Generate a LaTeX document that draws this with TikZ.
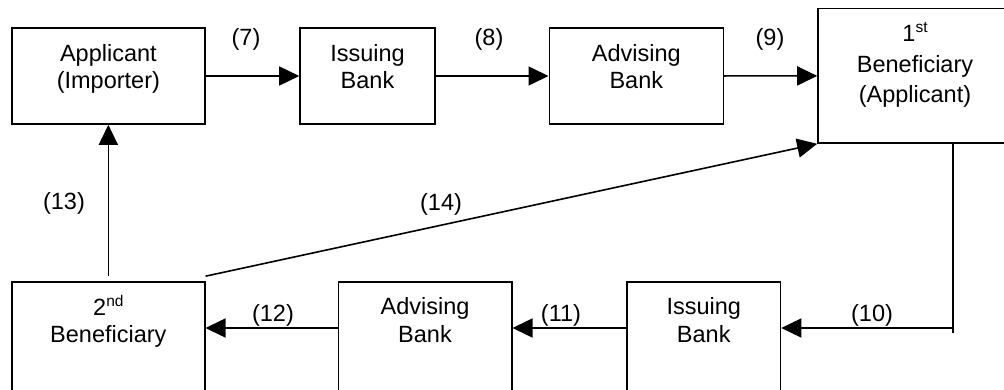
\documentclass[tikz,border=0pt]{standalone}
\usepackage{fontspec}
\setmainfont{Liberation Sans}
\usetikzlibrary{arrows.meta}
\newcommand\supx[1]{\raisebox{9pt}{\fontsize{15.5}{15.5}\selectfont #1}}
\begin{document}
\begin{tikzpicture}[x=1pt,y=-1pt,
  box/.style={draw=black, line width=1.6pt, rectangle, inner sep=0pt},
  txt/.style={align=center, inner sep=0pt, font=\fontsize{23.5}{27.5}\selectfont},
  txtb/.style={align=center, inner sep=0pt, font=\fontsize{23.5}{30.5}\selectfont},
  lbl/.style={inner sep=0pt, font=\fontsize{23.5}{27.5}\selectfont},
  arr/.style={line width=1.6pt, -{Triangle[length=20pt,width=19pt]}},
  ln/.style={line width=1.6pt}]
\useasboundingbox (0,0) rectangle (1004,390);
\fill[white] (0,0) rectangle (1004,390);
\clip (0,0) rectangle (1004,390);

% top row boxes
\node[box, minimum width=192.7pt, minimum height=96pt] (app) at (108.35,76) {};
\node[box, minimum width=135pt, minimum height=96pt] (ib) at (367.5,76) {};
\node[box, minimum width=174pt, minimum height=96pt] (ab) at (636.3,76) {};
\node[box, minimum width=194pt, minimum height=134.3pt] (b1) at (915,75.85) {};
% bottom row boxes
\node[box, minimum width=192.7pt, minimum height=118pt] (b2) at (108.35,341) {};
\node[box, minimum width=173.4pt, minimum height=118pt] (ab2) at (425,341) {};
\node[box, minimum width=153.5pt, minimum height=118pt] (ib2) at (703.75,341) {};

% box texts
\node[txt] (appT) at (108.35,69.6) {\strut Applicant\\(Importer)\strut};
\node[txt] (ibT) at (367.5,69.4) {\strut Issuing\\Bank\strut};
\node[txt] (abT) at (636.3,69.4) {\strut Advising\\Bank\strut};
\node[txtb] (b1T) at (915,66.3) {\strut 1\supx{st}\\Beneficiary\\(Applicant)\strut};
\node[txt] (b2T) at (108.35,322.85) {\strut 2\supx{nd}\\Beneficiary\strut};
\node[txt] (ab2T) at (425,322.85) {\strut Advising\\Bank\strut};
\node[txt] (ib2T) at (703.75,322.85) {\strut Issuing\\Bank\strut};

% helper coordinates
\coordinate (hy) at (0,328);
\coordinate (c10) at (953,328);

% connectors
\draw[arr] (app) -- (ib);
\draw[arr] (ib) -- (ab);
\draw[arr] (ab) -- (b1);
\draw[ln] (b1.south -| c10) -- ([yshift=-5pt]c10);
\draw[arr] (c10) -- (c10 -| ib2.east);
\draw[arr] (ib2.west |- hy) -- (ab2.east |- hy);
\draw[arr] (ab2.west |- hy) -- (b2.east |- hy);
\draw[arr] ([yshift=5pt]b2.north) -- (app.south);
\draw[arr] ([yshift=5pt]b2.north east) -- (b1.south west);

% labels
\node[lbl] (l7) at (246,39.5) {(7)};
\node[lbl] (l8) at (489,39.5) {(8)};
\node[lbl] (l9) at (770,39.5) {(9)};
\node[lbl] (l10) at (872,315) {(10)};
\node[lbl] (l11) at (561,315) {(11)};
\node[lbl] (l12) at (273,315) {(12)};
\node[lbl] (l13) at (64,203) {(13)};
\node[lbl] (l14) at (441,204) {(14)};
\end{tikzpicture}
\end{document}
